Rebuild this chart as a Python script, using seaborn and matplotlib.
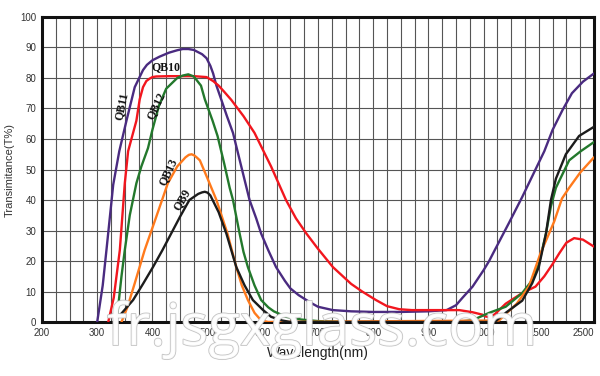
import numpy as np
import pandas as pd
import matplotlib
matplotlib.use("Agg")
import matplotlib.pyplot as plt
import matplotlib.patheffects as pe
import seaborn as sns

# transmittance curves (wavelength nm, T%)
qb11_nm = [300, 310, 317, 329, 340, 353, 368, 383, 390, 400, 413, 430, 445, 455, 465, 475, 490, 498, 505,
           510, 516, 525, 535, 546, 561, 576, 588, 597, 610, 624, 640, 650, 665, 679, 690, 700, 727, 760,
           800, 850, 900, 933, 950, 962, 980, 1000, 1050, 1100, 1230, 1350, 1470, 1600, 1750, 1930,
           2100, 2300, 2500]
qb11_t = [0, 12, 24, 45, 56, 66, 77, 82.6, 84.3, 85.8, 87, 88.3, 89.1, 89.5, 89.5, 89.2, 87.8, 86.5, 84,
          81.5, 77.5, 72.8, 67.5, 62, 51, 40, 34, 29, 23.5, 18, 13.5, 11, 8.8, 7.2, 6, 5, 3.9, 3.5,
          3.3, 3.3, 3.5, 3.9, 5.5, 8, 11.6, 17, 20, 23.5, 32.5, 41, 50, 56, 63, 69.5,
          75, 78.8, 81.5]

qb10_nm = [320, 330, 341, 350, 356, 365, 371, 377, 383, 389, 395, 400, 407, 430, 460, 475, 498, 510, 520,
           530, 543, 565, 585, 600, 615, 642, 660, 679, 700, 727, 760, 780, 805, 825, 847, 870, 900, 956,
           980, 998, 1020, 1050, 1100, 1200, 1350, 1470, 1600, 1750, 1870, 2000, 2140, 2300, 2500]
qb10_t = [0, 8, 23.6, 45.5, 56, 62, 66, 73, 77, 79, 79.8, 80.3, 80.5, 80.6, 80.6, 80.6, 80.3, 79, 77.5,
          75.5, 72.8, 67.5, 62, 56.5, 51, 40, 34, 29, 24, 18, 12.5, 10, 7.2, 5.2, 4.2, 3.9, 3.9, 3.9,
          3.2, 2.4, 1.8, 1.6, 2.5, 6, 9.5, 11.6, 15, 19, 22.5, 26, 27.5, 27, 24.7]

qb12_nm = [335, 344, 350, 359, 371, 380, 392, 400, 412, 425, 445, 455, 465, 475, 488, 495, 502, 509, 518,
           524, 530, 540, 546, 558, 565, 573, 585, 597, 610, 620, 642, 670, 700, 750, 950, 980, 1050,
           1200, 1350, 1440, 1500, 1630, 1720, 1810, 2050, 2260, 2500]
qb12_t = [0, 15, 23.6, 35, 45.5, 51, 57, 63, 71, 76.5, 80, 80.8, 81.2, 80.5, 77.5, 73, 69.5, 66, 61,
          56.5, 52, 44, 40, 29, 23, 18, 12, 7.2, 4.8, 3.5, 1.7, 0.8, 0.3, 0, 0, 0.6, 3,
          5, 9.5, 13.7, 19, 29, 38, 44, 53, 56, 59]

qb13_nm = [344, 355, 368, 386, 407, 428, 445, 460, 466, 471, 476, 480, 486, 500, 516, 536, 552, 562, 573,
           585, 597, 610, 1140, 1300, 1410, 1530, 1650, 1780, 1920, 2050, 2250, 2500]
qb13_t = [0, 5, 12.7, 23.6, 34.5, 45.5, 51, 54, 54.8, 55, 54.6, 54, 53, 47, 40, 29, 18, 12, 7.2,
          3, 0.5, 0, 0.5, 6, 11.6, 22.5, 27.5, 33, 40.5, 44, 49, 54]

qb9_nm = [329, 345, 365, 383, 401, 418, 434, 450, 467, 483, 490, 495, 500, 505, 520, 534, 552, 567, 582,
          600, 615, 635, 650, 1100, 1200, 1350, 1440, 1500, 1630, 1720, 1810, 1990, 2230, 2500]
qb9_t = [0, 3, 7.2, 12.5, 18, 23.5, 29, 34.5, 40, 42, 42.5, 42.7, 42.4, 41.5, 36, 29, 18, 12, 7.2,
         4, 1.7, 0.5, 0, 0, 3, 7, 12.7, 18, 29, 40, 47, 55, 61, 64]

x_ticks = [200, 300, 400, 500, 600, 700, 800, 900, 1000, 1500, 2500]
y_ticks = list(range(0, 101, 10))

curves = {
    "QB11": (qb11_nm, qb11_t),
    "QB10": (qb10_nm, qb10_t),
    "QB12": (qb12_nm, qb12_t),
    "QB13": (qb13_nm, qb13_t),
    "QB9": (qb9_nm, qb9_t),
}
frames = [pd.DataFrame({"nm": nm, "T": t, "Filter": name}) for name, (nm, t) in curves.items()]
df = pd.concat(frames, ignore_index=True)

palette = {
    "QB11": "#4a2b80",
    "QB10": "#f2161e",
    "QB12": "#23782c",
    "QB13": "#ff7a1c",
    "QB9": "#1c1c1c",
}

# x axis is piecewise linear: equal spacing between the labelled wavelengths
pos = np.arange(len(x_ticks), dtype=float)

def fwd(x):
    return np.interp(x, x_ticks, pos)

def inv(p):
    return np.interp(p, pos, x_ticks)

sns.set_style("white")
plt.rcParams["font.family"] = ["Liberation Sans", "DejaVu Sans"]

fig = plt.figure(figsize=(6, 3.76), dpi=100)
ax = fig.add_axes([0.07, 0.1436, 0.92, 0.8112])
ax.set_xscale("function", functions=(fwd, inv))

sns.lineplot(data=df, x="nm", y="T", hue="Filter", palette=palette, estimator=None,
             sort=False, linewidth=1.7, legend=False, ax=ax, zorder=3)

ax.set_xlim(200, 2500)
ax.set_ylim(0, 100)
ax.set_xticks(x_ticks)
ax.set_xticklabels([str(v) for v in x_ticks])
ax.get_xticklabels()[-1].set_horizontalalignment("right")
ax.set_xticks(inv(np.arange(0, len(x_ticks) - 0.99, 0.25)), minor=True)
ax.set_yticks(y_ticks)
ax.tick_params(axis="both", which="both", length=0, labelsize=7, colors="#333333", pad=4)
ax.grid(True, which="both", axis="x", color="#555555", linewidth=0.8)
ax.grid(True, which="major", axis="y", color="#555555", linewidth=0.8)
ax.set_axisbelow(True)
for s in ax.spines.values():
    s.set_visible(True)
    s.set_color("#111111")
    s.set_linewidth(2.2)

ax.set_xlabel("Wavelength(nm)", fontsize=10, color="#222222", labelpad=6)
ax.set_ylabel("Transimitance(T%)", fontsize=8, color="#333333", labelpad=4)

# curve labels
lab = dict(family=["Liberation Serif", "DejaVu Serif"], fontweight="bold", fontsize=8.5,
           color="#111111", ha="center", va="center", zorder=5)
ax.text(344, 70.6, "QB11", rotation=78, **lab)
ax.text(425, 83.5, "QB10", rotation=0, **lab)
ax.text(407, 71, "QB12", rotation=65, **lab)
ax.text(428, 49.3, "QB13", rotation=65, **lab)
ax.text(453, 40, "QB9", rotation=60, **lab)

# watermark
fig.text(0.537, 0.082, "fr.jsgxglass.com", fontsize=42, color="white", alpha=0.9,
         ha="center", va="baseline", family=["Open Sans", "DejaVu Sans"], zorder=10,
         path_effects=[pe.withStroke(linewidth=1.2, foreground="#bdbdbd")])

fig.savefig("out.png", dpi=100)
plt.close(fig)
